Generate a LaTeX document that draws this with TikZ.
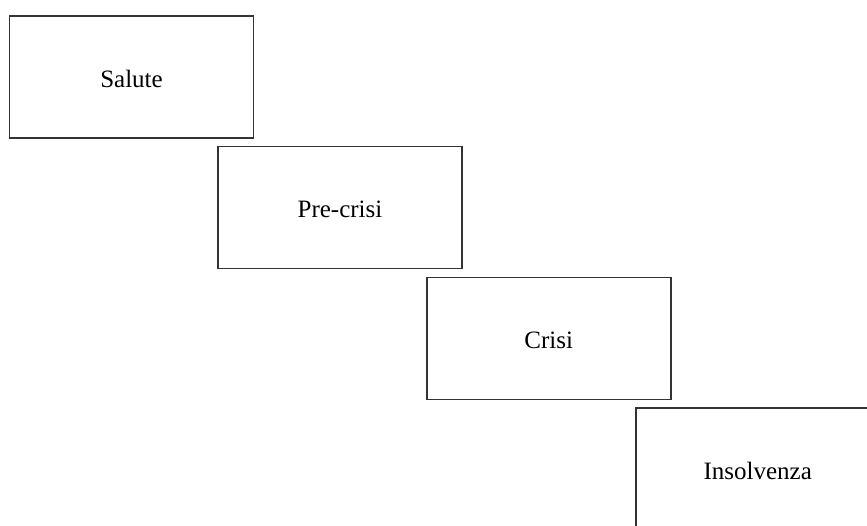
\documentclass[tikz,border=0pt]{standalone}
\usepackage{fontspec}
\setmainfont{Liberation Serif}
\begin{document}
\begin{tikzpicture}[x=1pt,y=1pt,
  stage/.style={draw=black!80, line width=1.8pt, fill=white, rectangle,
    minimum width=244pt, minimum height=122pt, inner sep=0pt,
    text height=21pt, text depth=0pt, font=\fontsize{25}{29}\selectfont}]
  \clip (0,0) rectangle (867,525);
  \fill[white] (0,0) rectangle (867,525);
  % four phases descending as a staircase
  \node[stage] (salute) at (131.5,448.2) {Salute};
  \node[stage] (precrisi) at (340,317.5) {Pre-crisi};
  \node[stage] (crisi) at (548.7,186.5) {Crisi};
  \node[stage] (insolvenza) at (757.7,55.7) {Insolvenza};
\end{tikzpicture}
\end{document}
